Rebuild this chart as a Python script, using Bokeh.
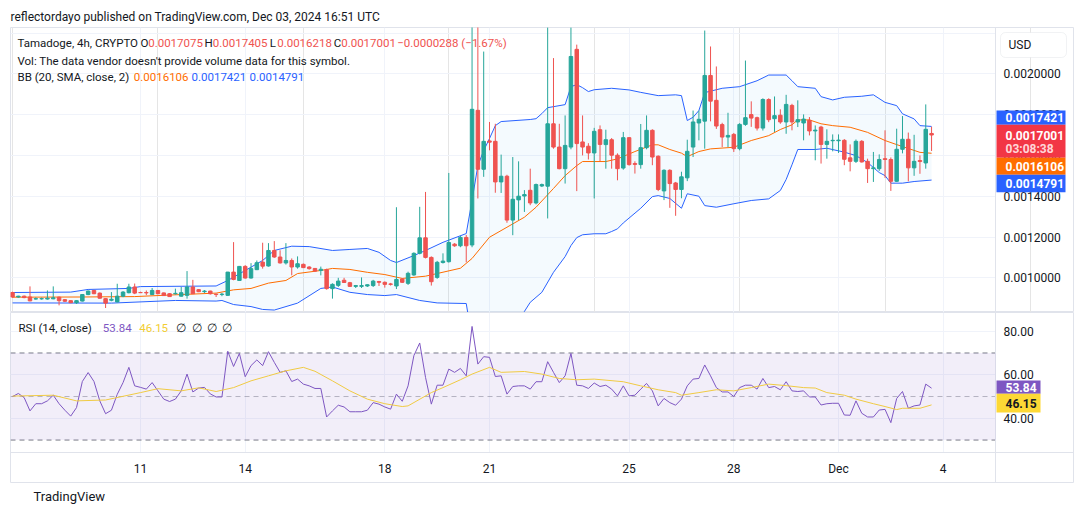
from datetime import datetime
from bokeh.plotting import figure
from bokeh.models import (Range1d, FixedTicker, NumeralTickFormatter, Grid, Label,
                          BoxAnnotation, Title)
from bokeh.layouts import column
from bokeh.embed import file_html
from bokeh.resources import INLINE

FONT = "Roboto"
TXT = "#131722"
UP = "#26a69a"
DOWN = "#ef5350"
GRID = "#f0f3fa"
EDGE = "#e0e3eb"

# ---------------- data (Tamadoge, 4h bars, first bar Nov 7 2024 08:00 UTC) ----------------
first_bar = datetime(2024, 11, 7, 8, 0)
bar_hours = 4

opens = [0.000928, 0.000906, 0.000910, 0.000906, 0.000896, 0.000897, 0.000896, 0.000897, 0.000905, 0.000893,
         0.000888, 0.000878, 0.000886, 0.000918, 0.000938, 0.000925, 0.000898, 0.000890, 0.000882, 0.000910,
         0.000927, 0.000955, 0.000928, 0.000928, 0.000918, 0.000938, 0.000926, 0.000922, 0.000922, 0.000910,
         0.000914, 0.000955, 0.000942, 0.000932, 0.000935, 0.000920, 0.000918, 0.000914, 0.001028, 0.000987,
         0.001056, 0.000999, 0.001040, 0.001077, 0.001058, 0.001134, 0.001102, 0.001073, 0.001085, 0.001053,
         0.001066, 0.001053, 0.001046, 0.001036, 0.001040, 0.000947, 0.000963, 0.000988, 0.000976, 0.000958,
         0.000958, 0.000960, 0.000962, 0.000982, 0.000978, 0.000970, 0.000960, 0.000994, 0.000973, 0.001014,
         0.001120, 0.001196, 0.001100, 0.001002, 0.001075, 0.001079, 0.001165, 0.001157, 0.001198, 0.001161,
         0.001821, 0.001532, 0.001671, 0.001669, 0.001470, 0.001498, 0.001283, 0.001382, 0.001401, 0.001429,
         0.001367, 0.001450, 0.001449, 0.001755, 0.001641, 0.001535, 0.001641, 0.002120, 0.001666, 0.001645,
         0.001612, 0.001726, 0.001653, 0.001677, 0.001601, 0.001538, 0.001687, 0.001560, 0.001555, 0.001638,
         0.001723, 0.001596, 0.001426, 0.001527, 0.001465, 0.001433, 0.001490, 0.001641, 0.001759, 0.001768,
         0.001992, 0.001870, 0.001751, 0.001690, 0.001703, 0.001633, 0.001752, 0.001800, 0.001785, 0.001734,
         0.001874, 0.001780, 0.001797, 0.001764, 0.001845, 0.001764, 0.001759, 0.001772, 0.001720, 0.001739,
         0.001654, 0.001672, 0.001672, 0.001674, 0.001588, 0.001571, 0.001669, 0.001571, 0.001535, 0.001535,
         0.001584, 0.001580, 0.001473, 0.001630, 0.001679, 0.001539, 0.001575, 0.001563, 0.0017075]
highs = [0.000932, 0.000912, 0.000913, 0.000958, 0.000904, 0.000903, 0.000938, 0.000958, 0.000908, 0.000896,
         0.000890, 0.000890, 0.000920, 0.000938, 0.000940, 0.000928, 0.000900, 0.000930, 0.000971, 0.000935,
         0.000971, 0.000972, 0.000932, 0.000938, 0.000950, 0.000940, 0.000928, 0.000925, 0.000947, 0.000955,
         0.001033, 0.000990, 0.000945, 0.000940, 0.000937, 0.000922, 0.000926, 0.001029, 0.001175, 0.001058,
         0.001062, 0.001072, 0.001085, 0.001172, 0.001170, 0.001180, 0.001135, 0.001170, 0.001095, 0.001105,
         0.001070, 0.001057, 0.001048, 0.001055, 0.001045, 0.000973, 0.001000, 0.001000, 0.000980, 0.000965,
         0.001002, 0.000968, 0.000990, 0.000985, 0.000982, 0.000975, 0.001346, 0.000998, 0.001030, 0.001125,
         0.001348, 0.001421, 0.001105, 0.001083, 0.001120, 0.001514, 0.001170, 0.001205, 0.001210, 0.002250,
         0.002250, 0.002109, 0.001764, 0.001755, 0.001604, 0.001505, 0.001592, 0.001571, 0.001430, 0.001535,
         0.001462, 0.001462, 0.002228, 0.002077, 0.001755, 0.001796, 0.002228, 0.002143, 0.001796, 0.001660,
         0.001735, 0.001747, 0.001726, 0.001685, 0.001610, 0.001715, 0.001690, 0.001571, 0.001754, 0.001796,
         0.001728, 0.001600, 0.001532, 0.001532, 0.001470, 0.001520, 0.001677, 0.001820, 0.001820, 0.002212,
         0.002134, 0.002036, 0.001760, 0.001809, 0.001710, 0.001758, 0.002065, 0.001865, 0.001790, 0.001880,
         0.001880, 0.001889, 0.001826, 0.001897, 0.001853, 0.001870, 0.001801, 0.001788, 0.001747, 0.001745,
         0.001728, 0.001703, 0.001703, 0.001680, 0.001654, 0.001678, 0.001675, 0.001584, 0.001617, 0.001605,
         0.001723, 0.001590, 0.001731, 0.001793, 0.001712, 0.001701, 0.001600, 0.001850, 0.0017405]
lows = [0.000902, 0.000902, 0.000900, 0.000885, 0.000893, 0.000893, 0.000893, 0.000895, 0.000865, 0.000882,
        0.000876, 0.000872, 0.000884, 0.000915, 0.000920, 0.000898, 0.000852, 0.000885, 0.000880, 0.000905,
        0.000924, 0.000920, 0.000926, 0.000915, 0.000916, 0.000920, 0.000912, 0.000906, 0.000918, 0.000908,
        0.000898, 0.000928, 0.000930, 0.000926, 0.000918, 0.000906, 0.000910, 0.000912, 0.000988, 0.000985,
        0.000996, 0.000996, 0.001038, 0.001045, 0.001055, 0.001098, 0.001070, 0.001065, 0.001012, 0.001045,
        0.001048, 0.001040, 0.001030, 0.001012, 0.000942, 0.000898, 0.000955, 0.000975, 0.000955, 0.000950,
        0.000950, 0.000955, 0.000955, 0.000960, 0.000952, 0.000962, 0.000945, 0.000975, 0.000965, 0.001010,
        0.001115, 0.001095, 0.000962, 0.000995, 0.001070, 0.001075, 0.001152, 0.001150, 0.001076, 0.001150,
        0.001389, 0.001495, 0.001625, 0.001417, 0.001416, 0.001270, 0.001209, 0.001283, 0.001323, 0.001356,
        0.001360, 0.001445, 0.001291, 0.001633, 0.001532, 0.001462, 0.001630, 0.001425, 0.001600, 0.001580,
        0.001389, 0.001571, 0.001535, 0.001535, 0.001478, 0.001530, 0.001550, 0.001511, 0.001535, 0.001630,
        0.001552, 0.001425, 0.001381, 0.001343, 0.001304, 0.001390, 0.001474, 0.001592, 0.001674, 0.001633,
        0.001767, 0.001730, 0.001641, 0.001641, 0.001617, 0.001625, 0.001745, 0.001740, 0.001722, 0.001722,
        0.001763, 0.001715, 0.001755, 0.001706, 0.001723, 0.001739, 0.001674, 0.001698, 0.001576, 0.001560,
        0.001584, 0.001620, 0.001612, 0.001552, 0.001522, 0.001563, 0.001565, 0.001465, 0.001470, 0.001524,
        0.001490, 0.001426, 0.001470, 0.001610, 0.001473, 0.001500, 0.001510, 0.001535, 0.0016218]
closes = [0.000906, 0.000910, 0.000903, 0.000887, 0.000898, 0.000898, 0.000900, 0.000902, 0.000888, 0.000885,
          0.000878, 0.000888, 0.000918, 0.000935, 0.000922, 0.000900, 0.000876, 0.000895, 0.000910, 0.000930,
          0.000955, 0.000925, 0.000927, 0.000926, 0.000938, 0.000922, 0.000913, 0.000908, 0.000924, 0.000927,
          0.000955, 0.000922, 0.000932, 0.000935, 0.000922, 0.000918, 0.000920, 0.001028, 0.000992, 0.001056,
          0.000999, 0.001045, 0.001074, 0.001057, 0.001134, 0.001102, 0.001073, 0.001085, 0.001053, 0.001069,
          0.001050, 0.001045, 0.001033, 0.001042, 0.000947, 0.000968, 0.000984, 0.000977, 0.000958, 0.000962,
          0.000962, 0.000966, 0.000984, 0.000978, 0.000968, 0.000968, 0.000992, 0.000978, 0.001022, 0.001120,
          0.001196, 0.001100, 0.000981, 0.001076, 0.001082, 0.001173, 0.001157, 0.001198, 0.001157, 0.001826,
          0.001532, 0.001669, 0.001665, 0.001470, 0.001498, 0.001283, 0.001385, 0.001400, 0.001408, 0.001367,
          0.001457, 0.001457, 0.001755, 0.001641, 0.001535, 0.001649, 0.002085, 0.001658, 0.001641, 0.001612,
          0.001718, 0.001654, 0.001677, 0.001601, 0.001535, 0.001687, 0.001555, 0.001556, 0.001638, 0.001723,
          0.001592, 0.001433, 0.001527, 0.001462, 0.001433, 0.001495, 0.001620, 0.001764, 0.001777, 0.001992,
          0.001866, 0.001744, 0.001690, 0.001698, 0.001633, 0.001752, 0.001785, 0.001783, 0.001734, 0.001874,
          0.001775, 0.001795, 0.001764, 0.001850, 0.001764, 0.001775, 0.001778, 0.001720, 0.001724, 0.001654,
          0.001669, 0.001674, 0.001675, 0.001581, 0.001571, 0.001669, 0.001568, 0.001535, 0.001539, 0.001580,
          0.001580, 0.001473, 0.001630, 0.001679, 0.001539, 0.001571, 0.001570, 0.001728, 0.0017001]

# Bollinger Bands (20, SMA, close, 2) read at bar indices
bb_upper_idx = [0, 10, 13, 20, 22, 35, 37, 40, 43, 45, 48, 51, 55, 58, 61, 63, 65, 66, 69, 71, 74, 78, 79, 80,
                81, 82, 83, 84, 89, 90, 91, 92, 95, 96, 97, 98, 99, 100, 103, 106, 108, 111, 114, 115, 116, 117,
                118, 119, 122, 125, 128, 130, 133, 134, 135, 138, 139, 141, 143, 146, 148, 150, 152, 153, 155,
                156, 158]
bb_upper = [0.000928, 0.000930, 0.000943, 0.000948, 0.000957, 0.000960, 0.000987, 0.001036, 0.001085, 0.001134,
            0.001155, 0.001153, 0.001134, 0.001139, 0.001144, 0.001125, 0.001085, 0.001075, 0.001109, 0.001134,
            0.001174, 0.001217, 0.001380, 0.001550, 0.001624, 0.001683, 0.001746, 0.001766, 0.001776, 0.001780,
            0.001805, 0.001834, 0.001849, 0.001937, 0.001947, 0.001932, 0.001913, 0.001922, 0.001929, 0.001921,
            0.001909, 0.001893, 0.001897, 0.001893, 0.001771, 0.001787, 0.001820, 0.001908, 0.001929, 0.001937,
            0.001966, 0.001994, 0.001994, 0.001966, 0.001937, 0.001929, 0.001888, 0.001872, 0.001885, 0.001890,
            0.001897, 0.001860, 0.001844, 0.001804, 0.001779, 0.001746, 0.0017421]
bb_mid_idx = [0, 12, 21, 29, 35, 38, 41, 44, 47, 49, 53, 55, 58, 61, 64, 67, 71, 77, 79, 82, 85, 88, 90, 93, 95,
              97, 98, 100, 102, 104, 107, 110, 111, 113, 115, 116, 118, 120, 124, 127, 130, 132, 134, 135, 137,
              139, 141, 144, 147, 150, 152, 156, 158]
bb_mid = [0.000905, 0.000906, 0.000908, 0.000918, 0.000925, 0.000941, 0.000948, 0.000974, 0.000987, 0.001021,
          0.001036, 0.001046, 0.001041, 0.001027, 0.001016, 0.000997, 0.001008, 0.001047, 0.001095, 0.001199,
          0.001248, 0.001297, 0.001346, 0.001438, 0.001501, 0.001550, 0.001570, 0.001570, 0.001570, 0.001583,
          0.001619, 0.001652, 0.001652, 0.001629, 0.001611, 0.001594, 0.001619, 0.001632, 0.001640, 0.001673,
          0.001697, 0.001727, 0.001750, 0.001774, 0.001774, 0.001755, 0.001746, 0.001738, 0.001713, 0.001673,
          0.001653, 0.001615, 0.0016106]
bb_lower_idx = [0, 17, 28, 35, 36, 38, 41, 43, 45, 49, 53, 55, 58, 61, 64, 66, 70, 73, 78, 79, 80, 82, 84, 86,
                87, 88, 89, 91, 93, 95, 96, 97, 98, 100, 102, 103, 104, 105, 108, 110, 111, 113, 115, 116, 118,
                119, 121, 124, 127, 130, 132, 133, 134, 135, 138, 140, 143, 145, 147, 149, 150, 151, 153, 155, 158]
bb_lower = [0.000877, 0.000876, 0.000889, 0.000886, 0.000889, 0.000869, 0.000859, 0.000845, 0.000842, 0.000876,
            0.000948, 0.000955, 0.000929, 0.000918, 0.000913, 0.000918, 0.000889, 0.000877, 0.000874, 0.000700,
            0.000620, 0.000580, 0.000580, 0.000660, 0.000760, 0.000835, 0.000880, 0.000929, 0.001027, 0.001104,
            0.001158, 0.001197, 0.001211, 0.001216, 0.001216, 0.001227, 0.001240, 0.001269, 0.001341, 0.001398,
            0.001403, 0.001389, 0.001341, 0.001412, 0.001400, 0.001354, 0.001346, 0.001363, 0.001379, 0.001387,
            0.001428, 0.001482, 0.001554, 0.001629, 0.001629, 0.001635, 0.001616, 0.001599, 0.001565, 0.001516,
            0.001501, 0.001464, 0.001464, 0.001472, 0.0014791]

# RSI (14, close), one value per bar
rsi = [50.0, 51.4, 49.5, 43.4, 46.7, 46.7, 48.0, 50.6, 46.7, 43.7, 41.0, 44.9, 56.9, 61.0, 56.9, 48.0, 42.1, 43.7,
       51.0, 56.4, 63.4, 54.9, 54.2, 53.4, 56.4, 52.6, 48.8, 47.7, 48.8, 52.6, 60.3, 52.1, 53.9, 54.2, 51.2,
       49.8, 49.8, 70.8, 63.8, 69.8, 59.1, 64.2, 66.8, 64.2, 70.6, 65.7, 61.1, 61.8, 56.9, 58.0, 55.7, 54.9, 53.7,
       53.7, 40.6, 43.4, 46.0, 45.2, 43.0, 43.0, 43.0, 43.7, 47.2, 46.5, 45.2, 44.2, 51.1, 47.8,
       54.9, 68.8, 74.6, 58.8, 46.5, 55.2, 55.2, 62.6, 61.1, 62.9, 59.5, 82.2, 64.9, 68.3, 68.0, 59.2, 59.5, 51.1,
       54.6, 54.9, 54.9, 53.4, 56.8, 56.8, 66.0, 61.1, 56.4, 59.5, 69.8, 55.2, 54.9, 53.7, 56.2,
       54.6, 55.2, 53.4, 50.3, 54.9, 50.3, 50.6, 53.4, 56.0, 52.6, 45.7, 49.1, 47.2, 46.0, 48.8, 54.9, 58.0, 58.3,
       64.5, 59.5, 54.1, 52.1, 52.1, 50.0, 54.1, 55.2, 55.2, 53.4, 58.3, 54.1, 54.6, 53.1, 56.8,
       52.6, 52.3, 52.6, 49.8, 49.8, 46.1, 46.7, 46.9, 46.9, 41.5, 41.4, 48.0, 42.3, 40.6, 40.6, 43.8, 44.1, 38.0,
       49.1, 52.3, 44.6, 45.7, 46.1, 55.7, 53.84]
# RSI-based moving average, read at bar indices
rsi_ma_idx = [0, 7, 11, 16, 22, 25, 29, 32, 35, 38, 41, 44, 47, 50, 52, 55, 58, 61, 64, 67, 68, 72, 74, 77, 79,
              82, 84, 88, 91, 94, 97, 100, 105, 108, 111, 114, 115, 118, 121, 124, 127, 130, 133, 136, 138, 140,
              143, 145, 148, 150, 152, 153, 156, 158]
rsi_ma = [50.2, 50.6, 48.0, 48.4, 51.8, 53.6, 52.6, 54.0, 52.3, 54.1, 57.2, 59.5, 61.8, 63.4, 61.6, 57.2, 52.6,
          48.8, 46.7, 45.4, 45.7, 51.8, 54.1, 57.7, 60.3, 63.4, 61.1, 61.5, 60.3, 58.3, 57.7, 58.0, 56.8, 54.9,
          53.1, 51.8, 50.6, 51.8, 53.1, 52.6, 54.1, 55.7, 55.0, 54.1, 53.9, 51.8, 50.6, 48.8, 46.7, 45.4, 44.0,
          44.6, 44.6, 46.15]
rsi_levels = [70, 50, 30]

tick_dates = [datetime(2024, 11, 11), datetime(2024, 11, 14), datetime(2024, 11, 18), datetime(2024, 11, 21),
              datetime(2024, 11, 25), datetime(2024, 11, 28), datetime(2024, 12, 1), datetime(2024, 12, 4)]
tick_labels = ["11", "14", "18", "21", "25", "28", "Dec", "4"]
price_ticks = [0.0010, 0.0012, 0.0014, 0.0016, 0.0018, 0.0020, 0.0022]
rsi_ticks = [40, 60, 80]
countdown = "03:08:38"

# ---------------- derived positions ----------------
def hours(d):
    return (d - first_bar).total_seconds() / 3600.0

t = [i * bar_hours for i in range(len(opens))]
tick_h = [hours(d) for d in tick_dates]
colors = [UP if c >= o else DOWN for o, c in zip(opens, closes)]
tops = [max(o, c) for o, c in zip(opens, closes)]
bots = [min(o, c) for o, c in zip(opens, closes)]

X0, X1 = -1.4, 729.6        # visible time span in hours (frame spans price scale too)
SCALE_X = 676.0             # where the price scale begins
xr = Range1d(X0, X1)

def style_axis(a, fmt, standoff):
    a.formatter = fmt
    a.major_tick_line_color = None
    a.minor_tick_line_color = None
    a.major_tick_out = 0
    a.major_tick_in = 0
    a.minor_tick_out = 0
    a.minor_tick_in = 0
    a.major_label_standoff = standoff
    a.major_label_text_font = FONT
    a.major_label_text_font_size = "12px"
    a.major_label_text_color = TXT

def lab(p, x, y, text, color=TXT, size="11.5px", **kw):
    p.add_layout(Label(x=x, y=y, x_units="screen", y_units="screen", text=text, text_color=color,
                       text_font=FONT, text_font_size=size, text_baseline="middle",
                       text_align="left", **kw))

def box(p, l, r, top, bottom, color, **kw):
    p.add_layout(BoxAnnotation(left=l, right=r, top=top, bottom=bottom, left_units="screen",
                               right_units="screen", top_units="screen", bottom_units="screen",
                               fill_color=color, fill_alpha=1.0, **kw))

# ---------------- main price panel ----------------
p1 = figure(width=1080, height=312, x_range=xr, y_range=Range1d(0.00083, 0.002227),
            y_axis_location="right", x_axis_location=None, toolbar_location=None,
            output_backend="svg", min_border_left=10, min_border_right=7,
            min_border_top=27, min_border_bottom=0)
p1.outline_line_color = EDGE
p1.background_fill_color = "white"
p1.border_fill_color = "white"
p1.title.text = "reflectordayo published on TradingView.com, Dec 03, 2024 16:51 UTC"
p1.title.text_font = FONT
p1.title.text_font_size = "12px"
p1.title.text_font_style = "normal"
p1.title.text_color = TXT
p1.title.align = "left"
p1.title.standoff = 8
ax = p1.yaxis[0]
ax.ticker = FixedTicker(ticks=price_ticks)
style_axis(ax, NumeralTickFormatter(format="0.0000000"), 8)
ax.major_label_overrides = {price_ticks[-1]: ""}   # hidden under the currency button
ax.fixed_location = SCALE_X
ax.axis_line_color = EDGE
p1.ygrid.grid_line_color = GRID
p1.ygrid.cross_bounds = (X0, SCALE_X)
p1.add_layout(Grid(dimension=0, ticker=FixedTicker(ticks=tick_h), grid_line_color=GRID))

bx = [bar_hours * i for i in bb_upper_idx] + [bar_hours * i for i in bb_lower_idx][::-1]
by = bb_upper + bb_lower[::-1]
p1.patch(bx, by, fill_color="#2196f3", fill_alpha=0.05, line_color=None)
p1.line([bar_hours * i for i in bb_upper_idx], bb_upper, line_color="#2962ff", line_width=1)
p1.line([bar_hours * i for i in bb_lower_idx], bb_lower, line_color="#2962ff", line_width=1)
p1.line([bar_hours * i for i in bb_mid_idx], bb_mid, line_color="#ff6d00", line_width=1)

p1.segment(x0=t, y0=lows, x1=t, y1=highs, line_color=colors, line_width=1)
p1.vbar(x=t, width=2.4, top=tops, bottom=bots, fill_color=colors, line_color=colors, line_width=1)

# legend (screen coordinates are measured from the frame's bottom-left corner)
y1 = 269.3
lab(p1, 7, y1, "Tamadoge, 4h, CRYPTO")
lab(p1, 130, y1, "O"); lab(p1, 137.7, y1, f"{opens[-1]:.7f}", DOWN)
lab(p1, 194, y1, "H"); lab(p1, 202.3, y1, f"{highs[-1]:.7f}", DOWN)
lab(p1, 259.3, y1, "L"); lab(p1, 266.7, y1, f"{lows[-1]:.7f}", DOWN)
lab(p1, 323.3, y1, "C"); lab(p1, 330.7, y1, f"{closes[-1]:.7f}", DOWN)
lab(p1, 386.7, y1, "\u22120.0000288 (\u22121.67%)", DOWN)
lab(p1, 7, 252, "Vol: The data vendor doesn't provide volume data for this symbol.")
lab(p1, 7, 236, "BB (20, SMA, close, 2)")
lab(p1, 123.3, 236, f"{bb_mid[-1]:.7f}", "#ff6d00")
lab(p1, 181, 236, f"{bb_upper[-1]:.7f}", "#2962ff")
lab(p1, 239, 236, f"{bb_lower[-1]:.7f}", "#2962ff")

# currency button
box(p1, 990, 1056, 280, 255, "white", line_color="#d1d4dc", line_width=1, border_radius=5)
lab(p1, 998, 267.5, "USD", size="12px")

# last-value tags on the price scale
TAG = dict(size="12px", text_font_style="bold")
box(p1, 986, 1055, 202, 187.7, "#2962ff", line_color=None)
lab(p1, 995, 194.8, f"{bb_upper[-1]:.7f}", "white", **TAG)
box(p1, 986, 1055, 187.7, 154.7, "#f23645", line_color=None)
lab(p1, 995, 177.3, f"{closes[-1]:.7f}", "white", **TAG)
lab(p1, 995, 163.5, countdown, "#ffd6d9", **TAG)
box(p1, 986, 1055, 154.7, 137.7, "#ff6d00", line_color=None)
lab(p1, 995, 146.2, f"{bb_mid[-1]:.7f}", "white", **TAG)
box(p1, 986, 1055, 137.7, 120.3, "#2962ff", line_color=None)
lab(p1, 995, 129, f"{bb_lower[-1]:.7f}", "white", **TAG)

# ---------------- RSI panel ----------------
R0, R1 = 10.5, 88.6
p2 = figure(width=1080, height=203, x_range=xr, y_range=Range1d(R0, R1),
            y_axis_location="right", x_axis_location="below", toolbar_location=None,
            output_backend="svg", min_border_left=10, min_border_right=7,
            min_border_top=0, min_border_bottom=33)
p2.outline_line_color = EDGE
p2.background_fill_color = "white"
p2.border_fill_color = "white"
ry = p2.yaxis[0]
ry.ticker = FixedTicker(ticks=rsi_ticks)
style_axis(ry, NumeralTickFormatter(format="0.00"), 8)
ry.fixed_location = SCALE_X
ry.axis_line_color = EDGE
AXIS_Y = R0 + 30 * (R1 - R0) / 170.0     # date scale sits 30 px above the frame bottom
xa = p2.xaxis[0]
xa.ticker = FixedTicker(ticks=tick_h)
xa.major_label_overrides = {h: s for h, s in zip(tick_h, tick_labels)}
style_axis(xa, xa.formatter, 9)
xa.fixed_location = AXIS_Y
xa.axis_line_color = EDGE
p2.xgrid.grid_line_color = GRID
p2.xgrid.cross_bounds = (AXIS_Y, R1)
p2.ygrid.grid_line_color = GRID
p2.ygrid.cross_bounds = (X0, SCALE_X)

p2.add_layout(BoxAnnotation(bottom=30, top=70, right=SCALE_X, fill_color="#7e57c2", fill_alpha=0.1,
                            line_color=None))
p2.segment(x0=[X0] * 3, y0=rsi_levels, x1=[SCALE_X] * 3, y1=rsi_levels, line_color="#787b86",
           line_alpha=[1.0, 0.5, 1.0], line_dash="5 4", line_width=1)
p2.line(t, rsi, line_color="#7e57c2", line_width=1)
p2.line([bar_hours * i for i in rsi_ma_idx], rsi_ma, line_color="#fdd835", line_width=1)

yl = 154.7
lab(p2, 8, yl, "RSI (14, close)")
lab(p2, 92.3, yl, f"{rsi[-1]:.2f}", "#7e57c2")
lab(p2, 128.7, yl, f"{rsi_ma[-1]:.2f}", "#f2cd31")
for xx in [165.7, 181.5, 196.7, 211.7]:
    lab(p2, xx, yl, "\u2205")
box(p2, 986, 1030, 102, 88.7, "#7e57c2", line_color=None)
lab(p2, 995, 95.3, f"{rsi[-1]:.2f}", "white", **TAG)
box(p2, 986, 1030, 88.7, 70, "#fdd835", line_color=None)
lab(p2, 995, 79, f"{rsi_ma[-1]:.2f}", TXT, **TAG)

p2.add_layout(Title(text="TradingView", align="left", offset=23, text_font=FONT,
                    text_font_size="13px", text_font_style="normal", text_color=TXT,
                    standoff=8), "below")

layout = column(p1, p2, spacing=0)
open("out.html", "w").write(file_html(layout, INLINE))
